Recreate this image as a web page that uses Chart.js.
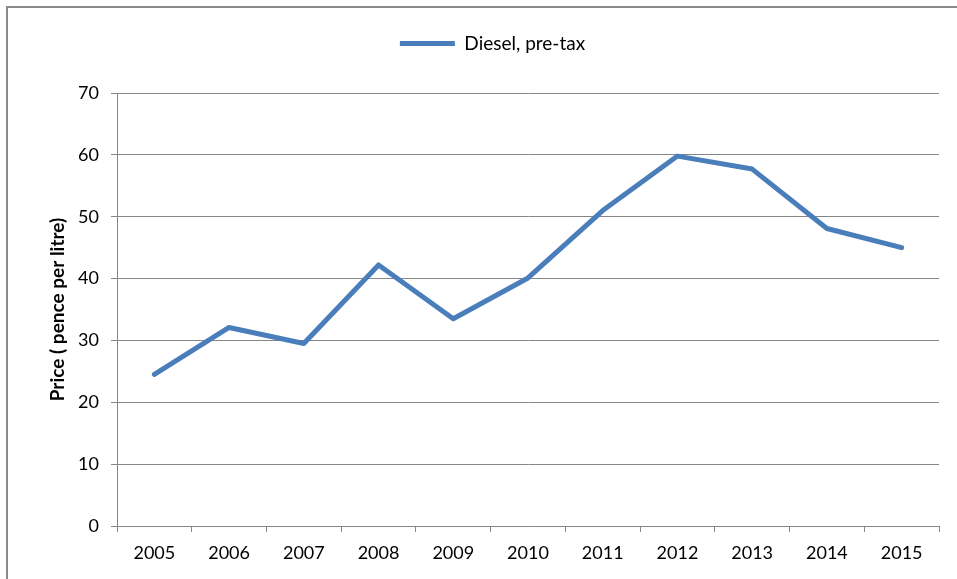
<!DOCTYPE html>
<html>
<head>
<meta charset="utf-8">
<style>
  body { margin: 0; background: #fff; overflow: hidden; }
  #wrap { position: relative; width: 957px; height: 579px; }
  #frame { position: absolute; left: 6px; top: 6px; width: 1000px; height: 1000px;
           border: 2px solid #8a8a8a; pointer-events: none; }
</style>
</head>
<body>
<div id="wrap">
  <canvas id="dieselChart" width="957" height="579"></canvas>
  <div id="frame"></div>
</div>

<script src="https://cdn.jsdelivr.net/npm/chart.js"></script>
<script>
    // data
    const years = ['2005', '2006', '2007', '2008', '2009', '2010', '2011', '2012', '2013', '2014', '2015'];
    const dieselPreTax = [24.5, 32.1, 29.5, 42.2, 33.5, 40.1, 51.0, 59.8, 57.7, 48.1, 45.0];
    const seriesName = 'Diesel, pre-tax';
    const yTitle = 'Price ( pence per litre)';

    const blue = '#4a7ebb';
    const gridGrey = '#868686';
    const fontFam = 'Lato, "Open Sans", sans-serif';

    // give the legend some extra room underneath, like the original
    const legendGap = {
        id: 'legendGap',
        beforeInit(chart) {
            const fit = chart.legend.fit;
            chart.legend.fit = function() {
                fit.bind(chart.legend)();
                this.height += 30;
            };
        }
    };

    const ctx = document.getElementById('dieselChart').getContext('2d');

    new Chart(ctx, {
        type: 'line',
        data: {
            labels: years,
            datasets: [{
                label: seriesName,
                data: dieselPreTax,
                borderColor: blue,
                backgroundColor: blue,
                borderWidth: 5,
                pointRadius: 0,
                tension: 0,
                borderJoinStyle: 'round',
                borderCapStyle: 'round'
            }]
        },
        plugins: [legendGap],
        options: {
            responsive: false,
            animation: false,
            layout: { padding: { left: 46, right: 18, top: 6, bottom: 0 } },
            plugins: {
                tooltip: { enabled: false },
                legend: {
                    position: 'top',
                    labels: {
                        color: '#000',
                        font: { family: fontFam, size: 19 },
                        boxWidth: 55,
                        boxHeight: 5,
                        padding: 28,
                        generateLabels: function(chart) {
                            return [{ text: seriesName, fillStyle: blue, strokeStyle: blue, lineWidth: 0, datasetIndex: 0 }];
                        }
                    }
                }
            },
            scales: {
                x: {
                    offset: true,
                    grid: {
                        offset: true,
                        drawOnChartArea: false,
                        drawTicks: true,
                        tickLength: 6,
                        color: gridGrey
                    },
                    border: { color: gridGrey, width: 1 },
                    ticks: { color: '#000', font: { family: fontFam, size: 18 }, padding: 10, maxRotation: 0 },
                    afterFit: function(scale) { scale.height = 53; }
                },
                y: {
                    min: 0,
                    max: 70,
                    ticks: { stepSize: 10, color: '#000', font: { family: fontFam, size: 18 }, padding: 12 },
                    grid: { color: gridGrey, tickLength: 6 },
                    border: { color: gridGrey, width: 1 },
                    title: {
                        display: true,
                        text: yTitle,
                        color: '#000',
                        font: { family: fontFam, size: 19, weight: 'bold' },
                        padding: 0
                    },
                    afterFit: function(scale) { scale.width = 71; }
                }
            }
        }
    });
</script>
</body>
</html>
